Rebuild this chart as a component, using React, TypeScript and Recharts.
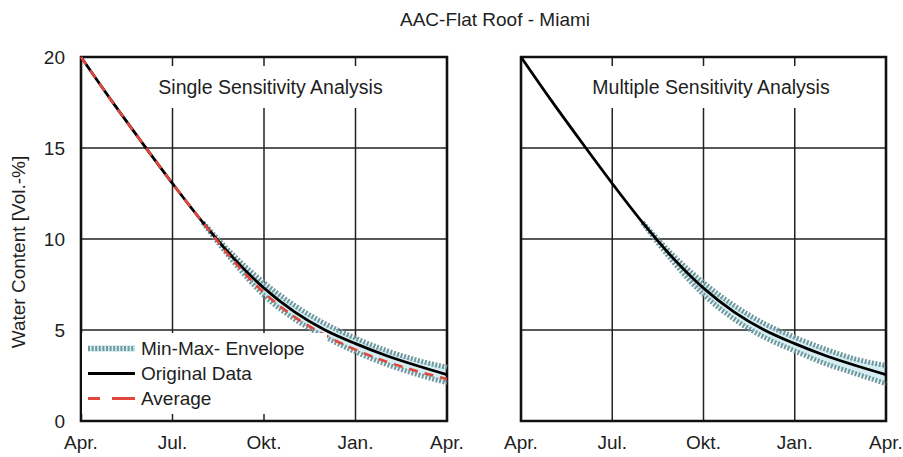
import React from "react"
import {
  ComposedChart,
  Line,
  Area,
  XAxis,
  YAxis,
  CartesianGrid,
  ReferenceArea,
  Legend,
} from "recharts"

const months = [0, 1, 2, 3, 4, 5, 6, 7, 8, 9, 10, 11, 12]
const monthTicks = [0, 3, 6, 9, 12]
const monthLabels = ["Apr.", "Jul.", "Okt.", "Jan.", "Apr."]
const waterTicks = [0, 5, 10, 15, 20]

// water content [Vol.-%], one value per month from April
const originalData = [20, 17.6, 15.3, 13.05, 10.9, 8.95, 7.3, 6.0, 5.0, 4.25, 3.6, 3.05, 2.55]
// envelope only opens up after about August
const singleMin = [null, null, null, null, 10.9, 8.75, 6.9, 5.6, 4.62, 3.8, 3.12, 2.57, 2.1]
const singleMax = [null, null, null, null, 10.9, 9.1, 7.6, 6.35, 5.35, 4.55, 3.88, 3.35, 2.95]
const singleAverage = [20, 17.6, 15.3, 13.05, 10.9, 8.8, 7.05, 5.72, 4.72, 3.92, 3.27, 2.75, 2.3]
const multipleMin = [null, null, null, null, 10.9, 8.75, 6.95, 5.6, 4.6, 3.85, 3.15, 2.6, 2.05]
const multipleMax = [null, null, null, null, 10.9, 9.1, 7.6, 6.35, 5.35, 4.6, 3.95, 3.4, 3.05]

const legendItems = ["Min-Max- Envelope", "Original Data", "Average"]

const FONT = '"Liberation Sans", Arial, Helvetica, sans-serif'
const INK = "#1e1e1e"
const TEAL = "#6f999f"
const HALO = "#d6eef1"
const RED = "#e2463c"

const singleRows = months.map((m, i) => ({
  m,
  orig: originalData[i],
  avg: singleAverage[i],
  min: singleMin[i],
  max: singleMax[i],
  range: singleMin[i] == null ? null : [singleMin[i], singleMax[i]],
}))

const multipleRows = months.map((m, i) => ({
  m,
  orig: originalData[i],
  min: multipleMin[i],
  max: multipleMax[i],
  range: multipleMin[i] == null ? null : [multipleMin[i], multipleMax[i]],
}))

function LegendBox() {
  const sample = (i: number) => {
    if (i === 0)
      return (
        <>
          <line x1={0} x2={47} y1={12.5} y2={12.5} stroke={HALO} strokeWidth={7} />
          <line x1={0} x2={47} y1={12.5} y2={12.5} stroke={TEAL} strokeWidth={5} strokeDasharray="2 1.6" />
        </>
      )
    if (i === 1) return <line x1={0} x2={47} y1={12.5} y2={12.5} stroke="#000" strokeWidth={3} />
    return <line x1={0} x2={47} y1={12.5} y2={12.5} stroke={RED} strokeWidth={3} strokeDasharray="12 12 23" />
  }
  return (
    <div style={{ paddingTop: 2.5, paddingLeft: 6, fontFamily: FONT, fontSize: 19, color: INK }}>
      {legendItems.map((name, i) => (
        <div key={name} style={{ display: "flex", alignItems: "center", height: 25, lineHeight: "25px" }}>
          <svg width={47} height={25}>{sample(i)}</svg>
          <span style={{ marginLeft: 6, whiteSpace: "nowrap" }}>{name}</span>
        </div>
      ))}
    </div>
  )
}

type PanelProps = {
  left: number
  width: number
  margin: { top: number; right: number; bottom: number; left: number }
  rows: any[]
  label: string
  labelBox: { left: number; width: number }
  yLabels: boolean
  withAverage: boolean
}

function Panel({ left, width, margin, rows, label, labelBox, yLabels, withAverage }: PanelProps) {
  return (
    <div style={{ position: "absolute", left, top: 0, width, height: 457 }}>
      <ComposedChart width={width} height={457} data={rows} margin={margin}>
        <CartesianGrid stroke="#222" strokeWidth={1.5} />
        <XAxis
          dataKey="m"
          type="number"
          domain={[0, 12]}
          ticks={monthTicks}
          interval={0}
          height={36}
          tickFormatter={(v: number) => monthLabels[monthTicks.indexOf(v)]}
          tick={{ fill: INK, fontSize: 19, fontFamily: FONT }}
          tickMargin={9}
          axisLine={false}
          tickLine={false}
        />
        <YAxis
          type="number"
          domain={[0, 20]}
          ticks={waterTicks}
          interval={0}
          width={yLabels ? 40 : 0}
          tick={{ fill: yLabels ? INK : "none", fontSize: 19, fontFamily: FONT }}
          tickMargin={10}
          axisLine={false}
          tickLine={false}
        />
        <Area
          dataKey="range"
          type="monotone"
          stroke="none"
          fill={HALO}
          fillOpacity={1}
          isAnimationActive={false}
        />
        <Line dataKey="min" type="monotone" stroke={TEAL} strokeWidth={5} strokeDasharray="2 1.6" dot={false} activeDot={false} isAnimationActive={false} />
        <Line dataKey="max" type="monotone" stroke={TEAL} strokeWidth={5} strokeDasharray="2 1.6" dot={false} activeDot={false} isAnimationActive={false} />
        <Line dataKey="orig" type="monotone" stroke="#000" strokeWidth={2.8} dot={false} activeDot={false} isAnimationActive={false} />
        {withAverage && (
          <Line dataKey="avg" type="monotone" stroke={RED} strokeWidth={2.6} strokeDasharray="9 7" dot={false} activeDot={false} isAnimationActive={false} />
        )}
        <ReferenceArea x1={0} x2={12} y1={0} y2={20} fill="none" stroke="#111" strokeWidth={2.6} ifOverflow="visible" />
        {withAverage && (
          <Legend
            layout="vertical"
            align="center"
            verticalAlign="middle"
            wrapperStyle={{ left: 82, top: 333, width: 245, height: 81, background: "#fff" }}
            content={() => <LegendBox />}
          />
        )}
      </ComposedChart>
      <div
        style={{
          position: "absolute",
          left: labelBox.left,
          top: 66,
          width: labelBox.width,
          height: 42,
          background: "#fff",
          display: "flex",
          alignItems: "center",
          justifyContent: "center",
          fontFamily: FONT,
          fontSize: 19.5,
          color: INK,
          whiteSpace: "nowrap",
        }}
      >
        {label}
      </div>
    </div>
  )
}

export default function App() {
  return (
    <div style={{ position: "absolute", left: 0, top: 0, width: 903, height: 457, background: "#fff", overflow: "hidden" }}>
      <Panel
        left={0}
        width={470}
        margin={{ top: 57, right: 23, bottom: 0, left: 41 }}
        rows={singleRows}
        label="Single Sensitivity Analysis"
        labelBox={{ left: 148, width: 245 }}
        yLabels
        withAverage
      />
      <Panel
        left={470}
        width={433}
        margin={{ top: 57, right: 17, bottom: 0, left: 51 }}
        rows={multipleRows}
        label="Multiple Sensitivity Analysis"
        labelBox={{ left: 110, width: 262 }}
        yLabels={false}
        withAverage={false}
      />
      <div
        style={{
          position: "absolute",
          left: 295,
          top: 9,
          width: 400,
          height: 22,
          lineHeight: "22px",
          textAlign: "center",
          fontFamily: FONT,
          fontSize: 19,
          color: INK,
        }}
      >
        AAC-Flat Roof - Miami
      </div>
      <div
        style={{
          position: "absolute",
          left: 18.5 - 130,
          top: 252 - 11,
          width: 260,
          height: 22,
          lineHeight: "22px",
          textAlign: "center",
          transform: "rotate(-90deg)",
          fontFamily: FONT,
          fontSize: 19,
          color: INK,
          whiteSpace: "nowrap",
        }}
      >
        Water Content [Vol.-%]
      </div>
    </div>
  )
}
